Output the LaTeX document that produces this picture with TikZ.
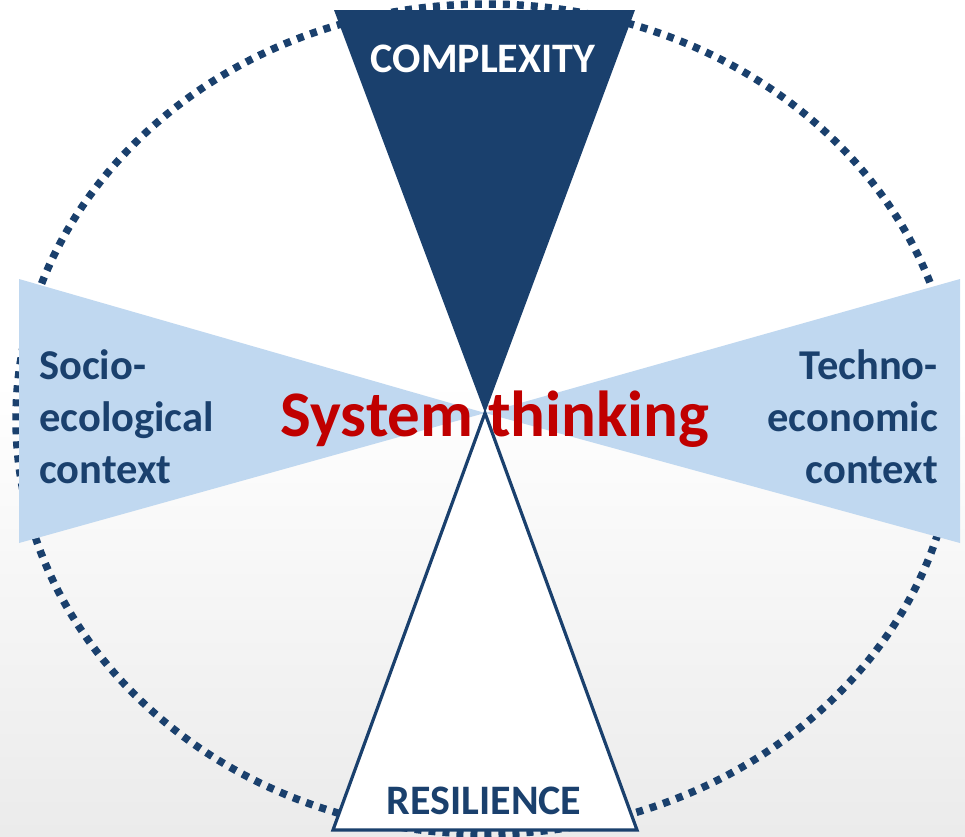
\documentclass[tikz,border=0pt]{standalone}
\usepackage{fontspec}
\setmainfont{Carlito}
\definecolor{navy}{RGB}{26,64,109}
\definecolor{paleblue}{RGB}{192,216,240}
\definecolor{deepred}{RGB}{192,0,0}
\definecolor{floor}{RGB}{235,235,235}
\tikzset{
  ring/.style={draw=navy, line width=7.5pt, dash pattern=on 7pt off 7pt},
  sidewedge/.style={fill=paleblue},
  topwedge/.style={fill=navy},
  bottomwedge/.style={fill=white, draw=navy, line width=3.2pt, line join=miter},
  sidelabel/.style={text=navy, font=\bfseries\fontsize{42.5}{52}\selectfont, inner sep=0pt},
  caplabel/.style={font=\bfseries\fontsize{42}{42}\selectfont, inner sep=0pt},
  centrelabel/.style={text=deepred, font=\bfseries\fontsize{65}{65}\selectfont, inner sep=0pt}
}
\begin{document}
\begin{tikzpicture}[x=1pt, y=-1pt]
  \useasboundingbox (0,0) rectangle (965,836);
  % background: white above, fading to light grey at the bottom
  \fill[white] (0,0) rectangle (965,836);
  \shade[top color=white, bottom color=floor] (0,380) rectangle (965,836);

  % dotted outer ring
  \draw[ring] (486,419) ellipse [x radius=470pt, y radius=415pt];

  % the four wedges meeting at the centre
  \coordinate (hub) at (485,413);
  \fill[sidewedge] (hub) -- (19,279) -- (19,543) -- cycle;
  \fill[sidewedge] (hub) -- (960,279) -- (960,543) -- cycle;
  \fill[topwedge] (hub) -- (334,10) -- (635,10) -- cycle;
  \draw[bottomwedge] (hub) -- (333,830) -- (637,830) -- cycle;

  % labels
  \node[caplabel, text=white, anchor=base] (complexity) at (483,72) {COMPLEXITY};
  \node[caplabel, text=navy, anchor=base] (resilience) at (484,814) {RESILIENCE};
  \node[sidelabel, align=left, anchor=base west] (socio) at (39,483) {Socio-\\ecological\\context};
  \node[sidelabel, align=right, anchor=base east] (techno) at (938,483) {Techno-\\economic\\context};
  \node[centrelabel, anchor=base] (system) at (495,436) {System thinking};
\end{tikzpicture}
\end{document}
